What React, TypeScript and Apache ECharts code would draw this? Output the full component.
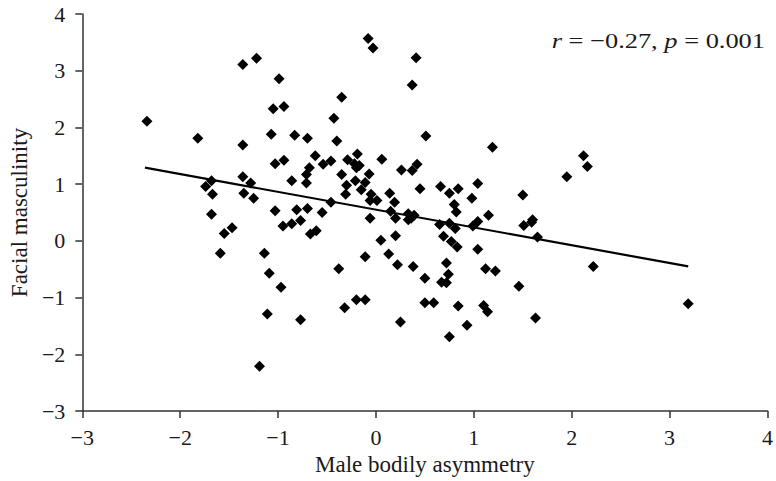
import React, { useEffect, useRef } from "react";
import * as echarts from "echarts";

const asymmetry = [
  -2.34, -1.36, -1.22, -0.99, -1.05, -0.94, -1.82, -1.36, -1.07, -0.83,
  -0.70, -0.62, -1.03, -0.94, -0.68, -0.71, -0.71, -0.86, -1.36, -1.28,
  -1.68, -1.74, -1.67, -1.35, -1.25, -1.68, -1.03, -0.81, -0.70, -1.55,
  -1.47, -0.95, -0.86, -0.77, -0.67, -0.61, -1.59, -1.14, -1.09, -0.97,
  -1.11, -0.77, -1.19, -0.08, -0.03, 0.41, 0.37, -0.35, -0.43, 0.51,
  1.19, -0.40, -0.46, -0.54, -0.29, -0.19, -0.22, -0.17, -0.20, 0.06,
  -0.07, -0.35, -0.30, -0.21, -0.11, -0.15, -0.31, -0.05, -0.06, 0.01,
  0.14, 0.19, 0.26, 0.37, 0.42, 0.45, 0.66, 0.75, 0.84, 1.04,
  0.98, 0.80, 0.82, 1.15, 1.50, -0.55, -0.46, 0.15, -0.06, 0.20,
  0.33, 0.39, 0.36, 1.60, 0.33, 0.05, 0.20, 0.13, 0.22, 0.38,
  -0.11, -0.38, -0.32, -0.20, -0.11, 0.25, 0.50, 0.50, 0.59, 0.65,
  0.75, 0.81, 0.69, 0.77, 0.83, 0.72, 0.74, 0.67, 0.72, 0.84,
  0.93, 0.75, 0.99, 1.04, 1.04, 1.12, 1.22, 1.10, 1.14, 1.46,
  1.51, 1.59, 1.65, 1.63, 2.22, 3.19, 2.12, 2.16, 1.95,
];

const masculinity = [
  2.11, 3.11, 3.22, 2.86, 2.33, 2.37, 1.81, 1.69, 1.88, 1.86,
  1.81, 1.50, 1.36, 1.42, 1.29, 1.17, 1.02, 1.06, 1.13, 1.02,
  1.06, 0.96, 0.82, 0.84, 0.75, 0.47, 0.53, 0.55, 0.57, 0.13,
  0.23, 0.26, 0.30, 0.36, 0.12, 0.18, -0.22, -0.22, -0.57, -0.82,
  -1.29, -1.39, -2.21, 3.57, 3.40, 3.23, 2.75, 2.53, 2.16, 1.85,
  1.65, 1.76, 1.41, 1.35, 1.43, 1.53, 1.36, 1.33, 1.29, 1.44,
  1.18, 1.17, 0.98, 1.06, 1.03, 0.90, 0.82, 0.82, 0.71, 0.71,
  0.84, 0.68, 1.25, 1.24, 1.35, 0.92, 0.96, 0.84, 0.92, 1.01,
  0.75, 0.64, 0.51, 0.45, 0.81, 0.50, 0.68, 0.52, 0.40, 0.40,
  0.48, 0.45, 0.40, 0.37, 0.37, 0.01, 0.09, -0.23, -0.42, -0.45,
  -0.28, -0.49, -1.18, -1.04, -1.04, -1.43, -0.66, -1.09, -1.09, 0.29,
  0.31, 0.22, 0.08, -0.01, -0.11, -0.39, -0.59, -0.73, -0.74, -1.15,
  -1.49, -1.69, 0.26, 0.34, -0.15, -0.49, -0.53, -1.14, -1.25, -0.80,
  0.27, 0.33, 0.07, -1.36, -0.45, -1.11, 1.50, 1.31, 1.13,
];

const trendX = [-2.36, 3.19];
const trendY = [1.29, -0.45];

const xTicks = { min: -3, max: 4, interval: 1 };
const yTicks = { min: -3, max: 4, interval: 1 };

const annotation = "{i|r} = \u22120.27, {i|p} = 0.001";

const FONT = "'Liberation Serif', 'Times New Roman', serif";

const fmt = (v: number) => (v < 0 ? "\u2212" + Math.abs(v) : String(v));

export default function App() {
  const ref = useRef<HTMLDivElement>(null);

  useEffect(() => {
    if (!ref.current) return;
    const chart = echarts.init(ref.current, null, { renderer: "svg" });
    const points = asymmetry.map((x, i) => [x, masculinity[i]]);
    const trend = trendX.map((x, i) => [x, trendY[i]]);
    const axisCommon = {
      axisLine: { show: true, onZero: false, lineStyle: { color: "#333", width: 1.5 } },
      axisTick: { show: true, inside: false, length: 7, lineStyle: { color: "#333", width: 1.5 } },
      splitLine: { show: false },
      nameTextStyle: { fontFamily: FONT, fontSize: 23, color: "#1a1a1a" },
    };
    chart.setOption({
      animation: false,
      backgroundColor: "#fff",
      grid: { left: 81, right: 6, top: 14, bottom: 68, containLabel: false },
      xAxis: {
        type: "value",
        ...xTicks,
        name: "Male bodily asymmetry",
        nameLocation: "middle",
        nameGap: 42,
        ...axisCommon,
        axisLabel: {
          margin: 15,
          fontFamily: FONT,
          fontSize: 22,
          color: "#1a1a1a",
          formatter: fmt,
        },
      },
      yAxis: {
        type: "value",
        ...yTicks,
        name: "Facial masculinity",
        nameLocation: "middle",
        nameGap: 50,
        ...axisCommon,
        axisLabel: {
          margin: 17,
          fontFamily: FONT,
          fontSize: 22,
          color: "#1a1a1a",
          formatter: fmt,
        },
      },
      graphic: [
        {
          type: "text",
          x: 765,
          y: 40,
          scaleX: 1.2,
          style: {
            text: annotation,
            fontFamily: FONT,
            fontSize: 22,
            fill: "#1a1a1a",
            textAlign: "right",
            textVerticalAlign: "middle",
            rich: {
              i: { fontStyle: "italic", fontFamily: FONT, fontSize: 22 },
            },
          },
        },
      ],
      series: [
        {
          type: "scatter",
          data: points,
          symbol: "diamond",
          symbolSize: 11,
          itemStyle: { color: "#000", opacity: 1 },
          z: 3,
        },
        {
          type: "line",
          data: trend,
          symbol: "none",
          lineStyle: { color: "#000", width: 2.2 },
          z: 2,
        },
      ],
    });
    return () => chart.dispose();
  }, []);

  return (
    <div
      ref={ref}
      style={{ position: "fixed", left: 0, top: 0, width: 776, height: 481, background: "#fff" }}
    />
  );
}
